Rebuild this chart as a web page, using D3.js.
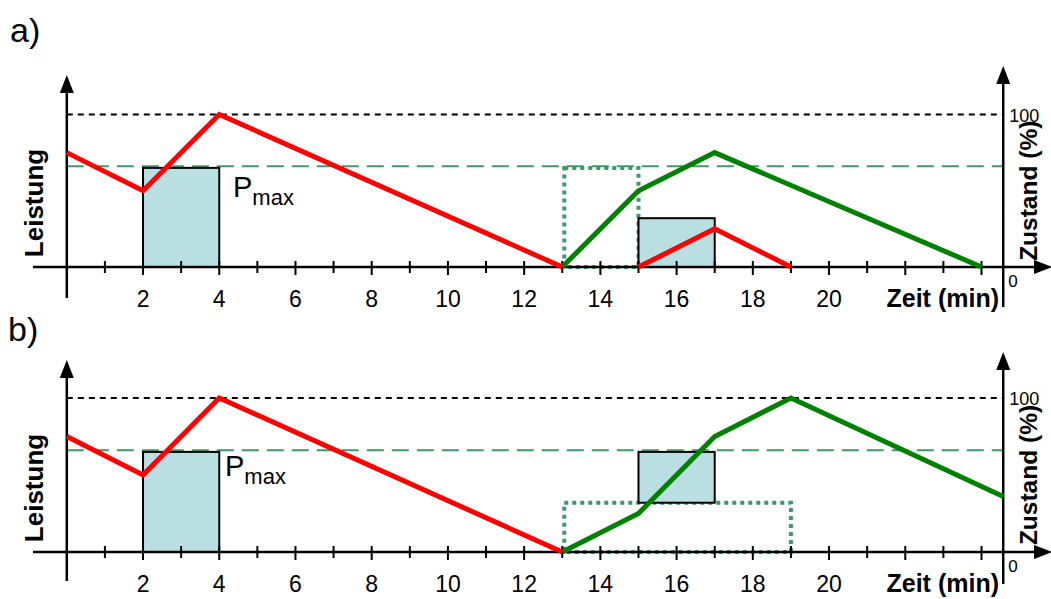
<!DOCTYPE html>
<html>
<head>
<meta charset="utf-8">
<script src="https://cdn.jsdelivr.net/npm/d3@7"></script>
<style>
  html, body { margin: 0; padding: 0; background: #fff; }
  svg { display: block; font-family: "Liberation Sans", Arial, sans-serif; }
</style>
</head>
<body>
<svg id="chart" width="1051" height="599"></svg>
<script>
// Time axis (minutes)
const tickMinutes = d3.range(1, 25);
const tickLabels = [2, 4, 6, 8, 10, 12, 14, 16, 18, 20];

// Reference levels (percent of the state / power scale)
const levelFull = 100;
const levelPmax = 66;

// Panel a)
const powerA1 = [[0, 75], [2, 50], [4, 100], [13, 0]];
const powerA2 = [[15, 0], [17, 25], [19, 0]];
const stateA = [[13, 0], [15, 50], [17, 75], [24, 0]];
const blocksA = [[2, 4, 0, 65], [15, 17, 0, 32]];
const plannedA = [[13, 15, 0, 65]];

// Panel b)
const powerB1 = [[0, 75], [2, 50], [4, 100], [13, 0]];
const stateB = [[13, 0], [15, 25], [17, 75], [19, 100], [24.57, 36]];
const blocksB = [[2, 4, 0, 65], [15, 17, 32, 65]];
const plannedB = [[13, 19, 0, 32]];

const svg = d3.select("#chart");
const x = d3.scaleLinear().domain([0, 24]).range([66.8, 981.5]);
const rightT = 24.57;

const RED = "#ff0000", GREEN = "#008000", GREEN_DASH = "#3d9b6b", BOX = "#b9dfe2";

function arrowUp(g, cx, tip) {
  g.append("path").attr("d", `M${cx},${tip} L${cx - 7},${tip + 18} L${cx + 7},${tip + 18} Z`).attr("fill", "#000");
}
function arrowRight(g, tip, cy) {
  g.append("path").attr("d", `M${tip},${cy} L${tip - 18},${cy - 7} L${tip - 18},${cy + 7} Z`).attr("fill", "#000");
}

function panel(cfg) {
  const g = svg.append("g");
  const y = d3.scaleLinear().domain([0, 100]).range([cfg.base, cfg.top100]);
  const line = d3.line().x(d => x(d[0])).y(d => y(d[1]));
  const xl = x(0), xr = x(rightT);

  // reference levels
  g.append("line").attr("x1", xl).attr("x2", xr).attr("y1", y(levelFull)).attr("y2", y(levelFull))
    .attr("stroke", "#000").attr("stroke-width", 2).attr("stroke-dasharray", "6,5");
  g.append("line").attr("x1", xl).attr("x2", xr).attr("y1", y(levelPmax)).attr("y2", y(levelPmax))
    .attr("stroke", GREEN_DASH).attr("stroke-width", 2).attr("stroke-dasharray", "17,8");

  // planned (dotted) windows
  cfg.planned.forEach(b => {
    g.append("rect").attr("x", x(b[0]) + 2).attr("y", y(b[3]))
      .attr("width", x(b[1]) - x(b[0]) - 2).attr("height", y(b[2]) - y(b[3]))
      .attr("fill", "none").attr("stroke", GREEN_DASH).attr("stroke-width", 4).attr("stroke-dasharray", "4,4");
  });

  // delivered power blocks
  cfg.blocks.forEach(b => {
    g.append("rect").attr("x", x(b[0])).attr("y", y(b[3]))
      .attr("width", x(b[1]) - x(b[0])).attr("height", y(b[2]) - y(b[3]))
      .attr("fill", BOX).attr("stroke", "#000").attr("stroke-width", 2);
  });

  // axes
  g.append("line").attr("x1", 33).attr("x2", 1040).attr("y1", cfg.base).attr("y2", cfg.base)
    .attr("stroke", "#000").attr("stroke-width", 2.5);
  arrowRight(g, 1052, cfg.base);
  g.append("line").attr("x1", xl).attr("x2", xl).attr("y1", cfg.leftTip + 10).attr("y2", cfg.leftEnd)
    .attr("stroke", "#000").attr("stroke-width", 2.5);
  arrowUp(g, xl, cfg.leftTip);
  g.append("line").attr("x1", xr).attr("x2", xr).attr("y1", cfg.rightTip + 10).attr("y2", cfg.rightEnd)
    .attr("stroke", "#000").attr("stroke-width", 2.5);
  arrowUp(g, xr, cfg.rightTip);

  g.selectAll(".tick").data(tickMinutes).enter().append("line")
    .attr("x1", d => x(d)).attr("x2", d => x(d))
    .attr("y1", cfg.base - 6).attr("y2", d => cfg.base + (d % 2 === 0 ? 8 : 6))
    .attr("stroke", "#000").attr("stroke-width", 2);

  g.selectAll(".tl").data(tickLabels).enter().append("text")
    .attr("x", d => x(d)).attr("y", cfg.base + 40).attr("text-anchor", "middle")
    .attr("font-size", 23).text(d => d);

  g.append("text").attr("x", 999).attr("y", cfg.base + 40).attr("text-anchor", "end")
    .attr("font-size", 25).attr("font-weight", "bold").text("Zeit (min)");

  g.append("text").attr("x", xr + 5).attr("y", cfg.base + 20).attr("font-size", 17).text("0");
  g.append("text").attr("x", xr + 6).attr("y", y(levelFull) + 7).attr("font-size", 18).text("100");

  g.append("text").attr("transform", `translate(1037,${(cfg.base + y(levelFull)) / 2}) rotate(-90)`)
    .attr("text-anchor", "middle").attr("font-size", 24.5).attr("font-weight", "bold").text("Zustand (%)");
  g.append("text").attr("transform", `translate(43,${cfg.leisY}) rotate(-90)`)
    .attr("text-anchor", "middle").attr("font-size", 26).attr("font-weight", "bold").text("Leistung");

  // Pmax label
  const p = g.append("text").attr("x", cfg.pmaxX).attr("y", cfg.pmaxY).attr("font-size", 29);
  p.append("tspan").text("P");
  p.append("tspan").attr("dy", 8).attr("font-size", 22).text("max");

  // panel tag
  g.append("text").attr("x", cfg.tagX).attr("y", cfg.tagY).attr("font-size", 34).text(cfg.tag);

  // series
  cfg.state.forEach(s => g.append("path").attr("d", line(s)).attr("fill", "none")
    .attr("stroke", GREEN).attr("stroke-width", 5).attr("stroke-linejoin", "miter"));
  cfg.power.forEach(s => g.append("path").attr("d", line(s)).attr("fill", "none")
    .attr("stroke", RED).attr("stroke-width", 5).attr("stroke-linejoin", "miter"));
}

panel({
  base: 267, top100: 114.5, leftTip: 75, leftEnd: 298, rightTip: 66, rightEnd: 307,
  leisY: 203, pmaxX: 233, pmaxY: 197, tag: "a)", tagX: 10, tagY: 42,
  power: [powerA1, powerA2], state: [stateA], blocks: blocksA, planned: plannedA
});
panel({
  base: 552, top100: 398, leftTip: 360, leftEnd: 581, rightTip: 352, rightEnd: 584,
  leisY: 488, pmaxX: 225, pmaxY: 476, tag: "b)", tagX: 8, tagY: 341,
  power: [powerB1], state: [stateB], blocks: blocksB, planned: plannedB
});
</script>
</body>
</html>
